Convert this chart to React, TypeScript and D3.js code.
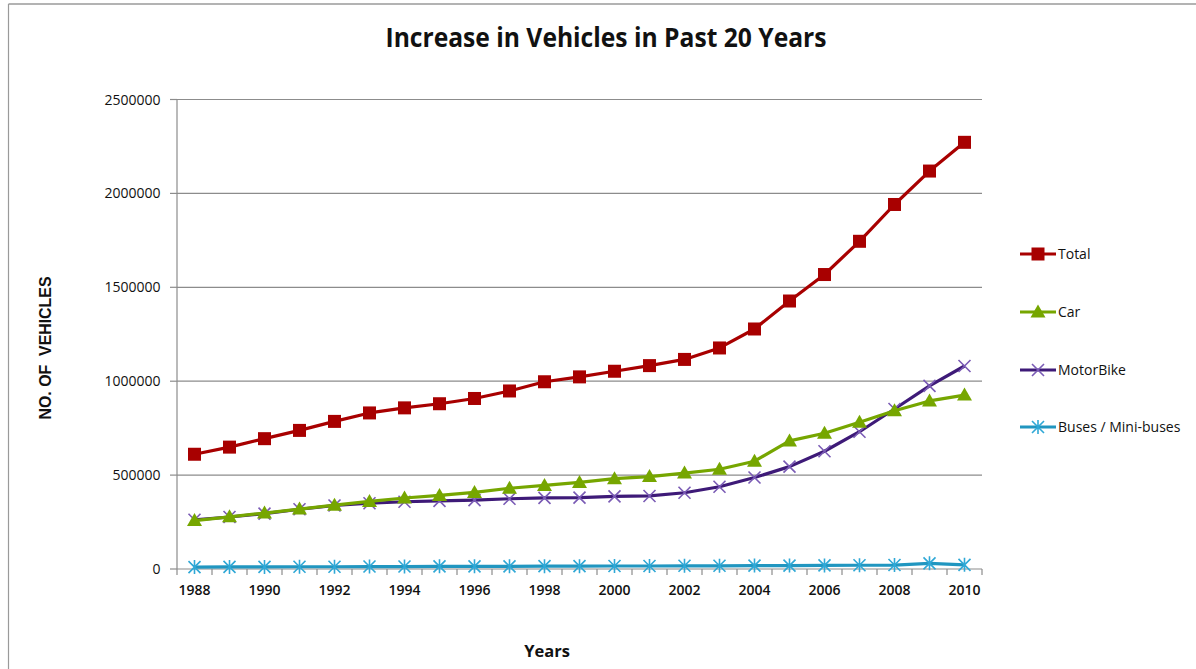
import React from "react";
import * as d3 from "d3";

const years = [
  1988, 1989, 1990, 1991, 1992, 1993, 1994, 1995, 1996, 1997, 1998, 1999,
  2000, 2001, 2002, 2003, 2004, 2005, 2006, 2007, 2008, 2009, 2010,
];
const total = [
  611000, 649000, 694000, 738000, 786000, 831000, 858000, 880000, 908000,
  948000, 997000, 1023000, 1053000, 1083000, 1116000, 1177000, 1278000,
  1427000, 1568000, 1745000, 1941000, 2119000, 2272000,
];
const car = [
  258000, 278000, 298000, 319000, 340000, 360000, 378000, 392000, 408000,
  430000, 445000, 461000, 481000, 492000, 511000, 531000, 574000, 682000,
  723000, 781000, 843000, 895000, 926000,
];
const motorBike = [
  262000, 277000, 295000, 318000, 338000, 350000, 358000, 363000, 367000,
  374000, 379000, 380000, 387000, 389000, 406000, 438000, 487000, 545000,
  627000, 731000, 852000, 975000, 1081000,
];
const buses = [
  10000, 11000, 11000, 12000, 12000, 13000, 13000, 14000, 14000, 14000, 15000,
  15000, 16000, 16000, 17000, 17000, 18000, 18000, 19000, 20000, 21000, 30000,
  22000,
];
const yTicks = [0, 500000, 1000000, 1500000, 2000000, 2500000];
const seriesNames = ["Total", "Car", "MotorBike", "Buses / Mini-buses"];

type Marker = "square" | "triangle" | "cross" | "star";
const seriesStyles: { color: string; markColor: string; marker: Marker }[] = [
  { color: "#A80000", markColor: "#A80000", marker: "square" },
  { color: "#76A600", markColor: "#76A600", marker: "triangle" },
  { color: "#3E1A78", markColor: "#7A5BB5", marker: "cross" },
  { color: "#2196C0", markColor: "#2FA8D6", marker: "star" },
];

const W = 1196;
const H = 669;
const left = 177;
const right = 982;
const top = 99.5;
const bottom = 569;

function MarkerShape({ kind, x, y, color }: { kind: Marker; x: number; y: number; color: string }) {
  if (kind === "square") {
    return <rect x={x - 6.5} y={y - 6.5} width={13} height={13} fill={color} />;
  }
  if (kind === "triangle") {
    return (
      <path
        d={`M${x},${y - 7.5}L${x + 7.5},${y + 5.5}L${x - 7.5},${y + 5.5}Z`}
        fill={color}
      />
    );
  }
  if (kind === "cross") {
    return (
      <path
        d={`M${x - 6},${y - 6}L${x + 6},${y + 6}M${x - 6},${y + 6}L${x + 6},${y - 6}`}
        stroke={color}
        strokeWidth={1.6}
        fill="none"
      />
    );
  }
  return (
    <path
      d={`M${x - 6},${y - 6}L${x + 6},${y + 6}M${x - 6},${y + 6}L${x + 6},${y - 6}M${x},${y - 7}L${x},${y + 7}`}
      stroke={color}
      strokeWidth={1.6}
      fill="none"
    />
  );
}

export default function App() {
  const x = d3.scalePoint<number>().domain(years).range([left, right]).padding(0.5);
  const band = d3.scaleBand<number>().domain(years).range([left, right]);
  const y = d3.scaleLinear().domain([0, 2500000]).range([bottom, top]);
  const data = [total, car, motorBike, buses];

  const line = d3
    .line<number>()
    .x((_, i) => x(years[i]) as number)
    .y((v) => y(v));

  const boundaries = [...years.map((yr) => band(yr) as number), right];
  const fmt = d3.format("d");

  const legendY = [254, 312, 370, 427];

  return (
    <svg
      width={W}
      height={H}
      style={{ position: "absolute", left: 0, top: 0, background: "#fff" }}
      fontFamily="'Open Sans', 'Noto Sans', sans-serif"
    >
      <rect x={0} y={0} width={W} height={H} fill="#fff" />
      {/* frame */}
      <line x1={8.5} y1={4} x2={W} y2={4} stroke="#9a9a9a" strokeWidth={1.5} />
      <line x1={8.5} y1={4} x2={8.5} y2={H} stroke="#9a9a9a" strokeWidth={1.2} />

      <text
        x={606}
        y={47}
        textAnchor="middle"
        fontSize={26}
        fontWeight={700}
        textLength={441}
        lengthAdjust="spacingAndGlyphs"
        fill="#111"
      >
        Increase in Vehicles in Past 20 Years
      </text>

      {/* gridlines and y axis */}
      {yTicks.map((t) => (
        <g key={t}>
          {t > 0 && (
            <line x1={left} x2={right} y1={y(t)} y2={y(t)} stroke="#8c8c8c" strokeWidth={1.2} />
          )}
          <line x1={170} x2={left} y1={y(t)} y2={y(t)} stroke="#8c8c8c" strokeWidth={1.2} />
          <text x={160.5} y={y(t) + 5} textAnchor="end" fontSize={14} fill="#111">
            {fmt(t)}
          </text>
        </g>
      ))}
      <line x1={left} x2={left} y1={top} y2={bottom} stroke="#8c8c8c" strokeWidth={1.2} />
      <line x1={left} x2={right} y1={bottom} y2={bottom} stroke="#8c8c8c" strokeWidth={1.2} />
      {boundaries.map((b, i) => (
        <line key={i} x1={b} x2={b} y1={bottom} y2={bottom + 6} stroke="#8c8c8c" strokeWidth={1.2} />
      ))}
      {years
        .filter((yr) => yr % 2 === 0)
        .map((yr) => (
          <text
            key={yr}
            x={x(yr) as number}
            y={595}
            textAnchor="middle"
            fontSize={14}
            fontWeight={600}
            fill="#111"
          >
            {yr}
          </text>
        ))}

      <text
        transform={`translate(51,348) rotate(-90)`}
        textAnchor="middle"
        fontFamily="'Liberation Sans', Arial, sans-serif"
        fontSize={17}
        fontWeight={700}
        textLength={143}
        lengthAdjust="spacingAndGlyphs"
        fill="#111"
        style={{ whiteSpace: "pre" }}
      >
        {"NO. OF  VEHICLES"}
      </text>
      <text x={547} y={657} textAnchor="middle" fontSize={16.5} fontWeight={700} fill="#111">
        Years
      </text>

      {/* series, drawn bottom-up so Total sits on top */}
      {[3, 2, 1, 0].map((si) => {
        const st = seriesStyles[si];
        return (
          <g key={si}>
            <path d={line(data[si]) ?? ""} fill="none" stroke={st.color} strokeWidth={3.2} strokeLinejoin="round" />
            {data[si].map((v, i) => (
              <MarkerShape key={i} kind={st.marker} x={x(years[i]) as number} y={y(v)} color={st.markColor} />
            ))}
          </g>
        );
      })}

      {/* legend */}
      {seriesNames.map((name, i) => {
        const st = seriesStyles[i];
        const ly = legendY[i];
        return (
          <g key={name}>
            <line x1={1020} x2={1056} y1={ly} y2={ly} stroke={st.color} strokeWidth={3.2} />
            <MarkerShape kind={st.marker} x={1038} y={ly} color={st.markColor} />
            <text x={1058} y={ly + 5} fontSize={14} fill="#111">
              {name}
            </text>
          </g>
        );
      })}
    </svg>
  );
}
